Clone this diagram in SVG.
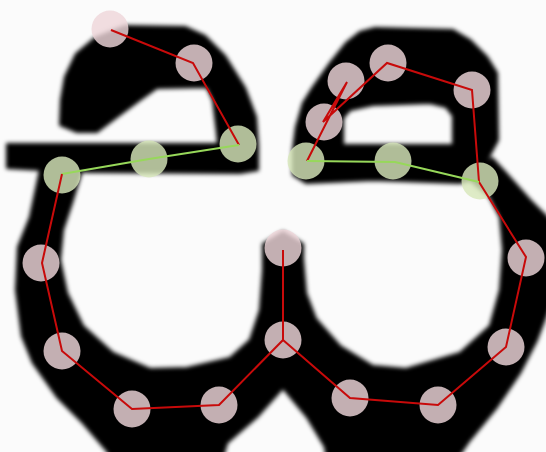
<svg xmlns="http://www.w3.org/2000/svg" width="546" height="452" viewBox="0 0 546 452">
  <defs>
    <filter id="soft" x="-5%" y="-5%" width="110%" height="110%">
      <feGaussianBlur stdDeviation="2"/>
    </filter>
    <style>
      .ink { fill: #000; stroke: #000; stroke-width: 2; stroke-linejoin: round; }
      .pt { stroke: none; opacity: 0.82; }
      .pink { fill: #eed5d9; }
      .green { fill: #d7e6b9; }
      .red { fill: none; stroke: #c80a0a; stroke-width: 2; stroke-linejoin: miter; }
      .grn { fill: none; stroke: #97d85a; stroke-width: 2; }
    </style>
  </defs>
  <rect width="546" height="452" fill="#fbfbfb"/>
  <g id="glyph" filter="url(#soft)">
    <path class="ink" d="M60,125 L61,100 L65,77 L76,54 L95,38 L125,26 L185,27 L205,36 L225,56 L245,88 L256,117 L258,146 L258,170 L240,173 L90,172 L42,170 L7,168 L7,144 L218,144 L217,133 L213,100 L207,87 L157,88 L140,100 L117,117 L97,132 L77,132 Z"/>
    <path class="ink" fill-rule="evenodd" d="M293,175 L293,150 L296,127 L303,103 L313,87 L330,63 L346,43 L360,32 L375,28 L453,30 L470,40 L487,57 L497,73 L498,140 L490,155 L478,178 L460,183 L373,180 L306,183 Z M343,118 L350,110 L373,105 L430,103 L446,107 L453,116 L453,145 L343,145 Z"/>
    <path class="ink" d="M40,170 L30,217 L18,247 L16,290 L22,336 L33,363 L57,397 L83,423 L108,452 L110,460 L222,460 L227,443 L257,417 L283,388 L307,417 L325,447 L327,460 L456,460 L470,440 L497,407 L520,373 L537,340 L552,300 L552,222 L530,200 L505,172 L492,158 L470,180 L490,197 L500,217 L503,250 L500,290 L490,326 L460,353 L406,369 L373,366 L340,346 L316,319 L306,293 L303,259 L303,244 L283,232 L263,244 L263,270 L260,310 L250,340 L230,358 L187,368 L150,369 L113,353 L83,326 L67,293 L60,260 L63,230 L72,203 L82,170 Z"/>
  </g>
  <g id="nodes">
    <g id="n-a"><circle class="pt pink" cx="110" cy="29" r="18.5"/></g>
    <g id="n-b"><circle class="pt pink" cx="194" cy="63" r="18.5"/></g>
    <g id="n-c"><circle class="pt green" cx="238" cy="144" r="18.5"/></g>
    <g id="n-d"><circle class="pt green" cx="149" cy="159" r="18.5"/></g>
    <g id="n-e"><circle class="pt green" cx="62" cy="175" r="18.5"/></g>
    <g id="n-f"><circle class="pt pink" cx="41" cy="263" r="18.5"/></g>
    <g id="n-g"><circle class="pt pink" cx="62" cy="351" r="18.5"/></g>
    <g id="n-h"><circle class="pt pink" cx="132" cy="409" r="18.5"/></g>
    <g id="n-i"><circle class="pt pink" cx="219" cy="405" r="18.5"/></g>
    <g id="n-j"><circle class="pt pink" cx="283" cy="340" r="18.5"/></g>
    <g id="n-k"><circle class="pt pink" cx="283" cy="248" r="18.5"/></g>
    <g id="n-l"><circle class="pt pink" cx="350" cy="398" r="18.5"/></g>
    <g id="n-m"><circle class="pt pink" cx="438" cy="405" r="18.5"/></g>
    <g id="n-n"><circle class="pt pink" cx="506" cy="347" r="18.5"/></g>
    <g id="n-o"><circle class="pt pink" cx="526" cy="258" r="18.5"/></g>
    <g id="n-p"><circle class="pt green" cx="480" cy="181" r="18.5"/></g>
    <g id="n-q"><circle class="pt pink" cx="472" cy="90" r="18.5"/></g>
    <g id="n-r"><circle class="pt pink" cx="388" cy="63" r="18.5"/></g>
    <g id="n-s"><circle class="pt pink" cx="346" cy="81" r="18.5"/></g>
    <g id="n-t"><circle class="pt pink" cx="324" cy="122" r="18.5"/></g>
    <g id="n-u"><circle class="pt green" cx="306" cy="161" r="18.5"/></g>
    <g id="n-v"><circle class="pt green" cx="393" cy="161" r="18.5"/></g>
  </g>
  <g id="connectors">
    <polyline class="red" points="111,30 193,63 239,145"/>
    <polyline class="grn" points="239,145 149,159 62,174"/>
    <polyline class="red" points="62,174 42,263 62,351 132,409 219,405 283,340 283,250"/>
    <polyline class="red" points="283,340 350,398 438,405 506,347 526,257 479,182"/>
    <polyline class="red" points="307,161 347,82 323,122 387,63 472,90 479,182"/>
    <polyline class="grn" points="307,161 395,162 479,182"/>
  </g>
</svg>
